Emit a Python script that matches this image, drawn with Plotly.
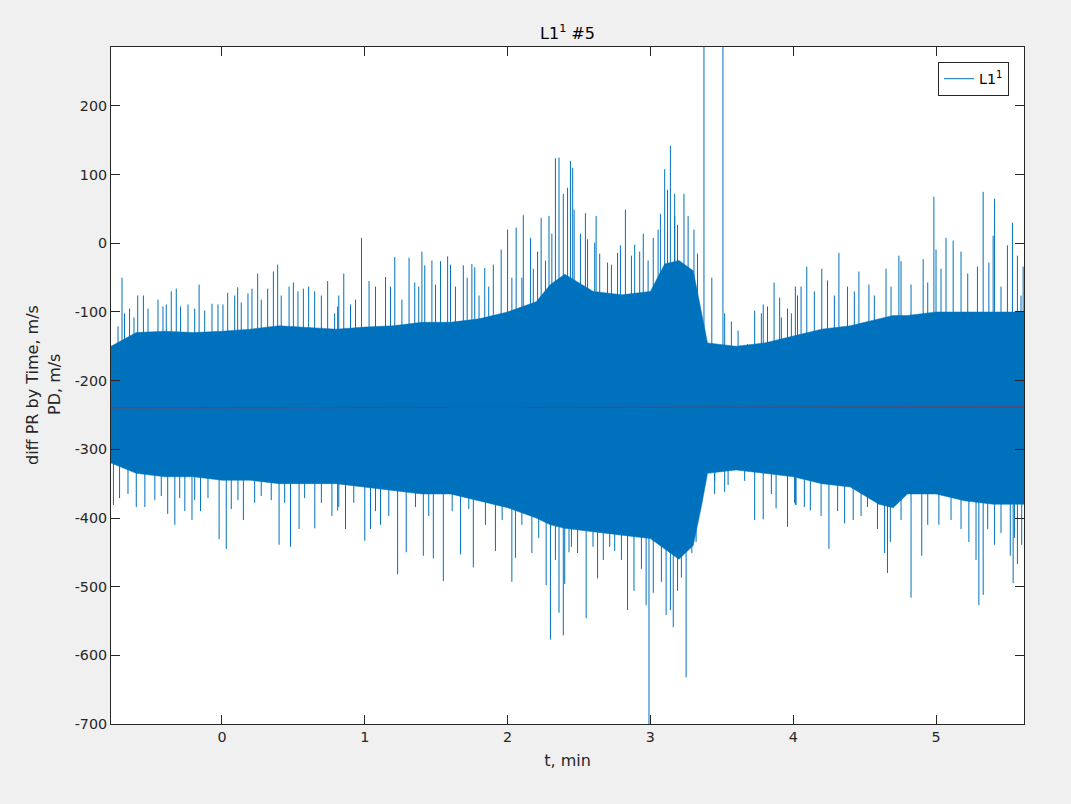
import plotly.graph_objects as go

# ---- data ----
# solid (dense) part of the signal: upper / lower edge
t_core = [-0.777, -0.6, -0.4, -0.2, 0.0, 0.2, 0.4, 0.6, 0.8, 1.0, 1.2, 1.4, 1.6, 1.8,
          2.0, 2.2, 2.3, 2.4, 2.6, 2.8, 3.0, 3.1, 3.2, 3.3, 3.36, 3.4, 3.6, 3.8, 4.0,
          4.2, 4.4, 4.6, 4.7, 4.8, 5.0, 5.2, 5.4, 5.616]
core_hi = [-150, -130, -128, -130, -128, -125, -120, -122, -125, -122, -120, -115, -115, -110,
           -100, -85, -60, -45, -70, -75, -70, -30, -25, -40, -100, -145, -150, -145, -135,
           -125, -120, -110, -105, -105, -100, -100, -100, -100]
core_lo = [-320, -335, -340, -340, -345, -345, -350, -350, -350, -355, -360, -365, -365, -375,
           -385, -400, -410, -415, -420, -425, -430, -445, -460, -440, -380, -335, -330, -335, -340,
           -350, -355, -380, -385, -365, -365, -375, -380, -380]

# upward spike tips (t, value)
up_t = [-0.70, -0.59, -0.55, -0.355, -0.32, -0.16, 0.04, 0.11, 0.21, 0.25, 0.32, 0.36, 0.39,
        0.47, 0.50, 0.57, 0.74, 0.81,
        -0.728, -0.682, -0.647, -0.616, -0.518, -0.448, -0.413, -0.39, -0.29, -0.238, -0.191,
        -0.121, -0.07, -0.028, 0.007, 0.089, 0.135, 0.182, 0.275, 0.415, 0.532, 0.607, 0.649,
        0.696, 0.789,
        0.853, 0.977, 1.03, 1.145, 1.21, 1.31, 1.35, 1.40, 1.42, 1.47, 1.53, 1.58, 1.60, 1.69,
        1.75, 1.77, 1.84, 1.90, 1.955, 2.00, 2.06, 2.11, 2.16, 2.21, 2.235, 2.29, 2.335, 2.36,
        2.39, 2.42,
        0.818, 0.90, 0.935, 1.075, 1.18, 1.26, 1.378, 1.495, 1.635, 1.717, 1.80, 1.868, 2.03,
        2.10, 2.18, 2.265, 2.31,
        2.44, 2.456, 2.466, 2.51, 2.545, 2.56, 2.62, 2.645, 2.70, 2.77, 2.79, 2.825, 2.89, 2.95,
        3.02, 3.07, 3.10, 3.12, 3.14, 3.17, 3.19, 3.235, 3.305, 3.33, 3.375, 3.43, 3.508, 3.52,
        3.68, 3.73, 3.79, 3.82, 3.866, 3.905, 3.96, 4.015, 4.03,
        2.61, 2.727, 2.867, 2.925, 2.984, 3.054, 3.17, 3.264, 3.567, 3.614, 3.777, 3.917, 3.987,
        4.095, 4.20, 4.24, 4.32, 4.38, 4.46, 4.53, 4.65, 4.74, 4.755, 4.91, 4.985, 5.0, 5.07,
        5.12, 5.175, 5.29, 5.33, 5.37, 5.40, 5.41, 5.50, 5.535, 5.57, 5.61,
        4.055, 4.148, 4.288, 4.428, 4.568, 4.685, 4.825, 4.942, 5.035, 5.222, 5.455, 5.595]
up_v = [-50, -76, -76, -70, -66, -60, -72, -64, -66, -44, -66, -41, -31,
        -63, -57, -66, -55, -92,
        -121, -102, -95, -108, -95, -82, -92, -89, -92, -89, -95,
        -98, -88, -89, -89, -76, -86, -73, -82, -76, -70, -63, -70,
        -76, -102,
        -44, 8, -55, -49, -20, -21, -57, -12, -32, -25, -26, -19, -31, -32,
        -30, -35, -36, -31, -9, 20, 23, 41, 8, -12, 37, 40, 124, 125,
        72, 81,
        -76, -89, -82, -63, -63, -82, -63, -60, -63, -50, -76, -63, -50,
        -50, -37, -25, 14,
        120, 110, 49, 14, 44, 6, 40, -15, -28, -14, -3, 49, -2, 14,
        8, 43, 108, 78, 142, 72, 27, 72, 20, -15, 400, -50, 400, -102,
        -147, -98, -89, -92, -57, -79, -95, -63, -76,
        1, -31, -18, -12, -25, 20, 40, 40, -114, -127, -102, -108, -102,
        -34, -37, -54, -14, -63, -41, -60, -37, -18, -26, -23, 68, -9, 8,
        4, -12, -34, 75, -28, 11, 65, -3, 30, -18, -34,
        -63, -70, -76, -70, -76, -63, -60, -57, -37, -44, -63, -76]

# downward spike tips (t, value)
dn_t = [-0.76, -0.60, -0.54, -0.38, -0.33, -0.26, -0.21, -0.15, -0.02, 0.03, 0.065, 0.15,
        0.40, 0.48, 0.54, 0.65, 0.77, 0.81,
        -0.717, -0.658, -0.47, -0.425, -0.296, -0.191, -0.098, 0.112, 0.229, 0.275, 0.345,
        0.439, 0.579, 0.696,
        0.865, 1.0, 1.04, 1.11, 1.23, 1.29, 1.41, 1.48, 1.55, 1.67, 1.76, 1.915, 2.03, 2.055,
        2.17, 2.27, 2.30, 2.36, 2.39, 2.43,
        0.818, 0.923, 1.075, 1.168, 1.355, 1.448, 1.612, 1.728, 1.845, 1.962, 2.10, 2.218, 2.335,
        2.40, 2.49, 2.55, 2.63, 2.67, 2.715, 2.84, 2.885, 2.97, 2.99, 3.02, 3.11, 3.14, 3.16,
        3.19, 3.25, 3.29, 3.32, 3.36, 3.45, 3.52, 3.595, 3.73, 3.79, 3.88, 3.96, 4.015,
        2.447, 2.598, 2.75, 2.797, 2.937, 3.077, 3.217, 3.45, 3.544, 3.66, 3.847, 4.01,
        4.02, 4.12, 4.25, 4.36, 4.42, 4.52, 4.64, 4.66, 4.68, 4.825, 4.90, 5.02, 5.23, 5.28,
        5.30, 5.33, 5.41, 5.52, 5.54, 5.57, 5.60,
        4.078, 4.195, 4.311, 4.475, 4.59, 4.755, 4.942, 5.105, 5.175, 5.362, 5.455, 5.549]
dn_v = [-381, -384, -384, -394, -410, -390, -403, -390, -431, -445, -387, -403,
        -439, -442, -416, -415, -397, -389,
        -371, -365, -374, -368, -371, -374, -371, -374, -378, -368, -374,
        -378, -371, -378,
        -416, -433, -416, -410, -482, -450, -455, -459, -492, -453, -472, -448, -493, -458,
        -451, -498, -577, -538, -571, -450,
        -384, -378, -390, -397, -384, -397, -390, -387, -410, -403, -410, -429, -461,
        -496, -451, -546, -488, -461, -442, -534, -506, -527, -720, -509, -541, -534, -559,
        -506, -632, -451, -435, -371, -365, -362, -323, -403, -402, -386, -413, -381,
        -442, -442, -448, -461, -474, -493, -487, -346, -352, -346, -365, -378,
        -381, -389, -445, -408, -403, -384, -451, -480, -435, -516, -455, -410, -435, -461,
        -527, -512, -439, -455, -495, -467, -439,
        -384, -397, -390, -397, -416, -403, -410, -403, -416, -416, -422, -429]

# mean level (red line)
mean_t = [-0.777, 5.616]
mean_v = [-239.5, -238.5]

x_ticks = [0, 1, 2, 3, 4, 5]
y_ticks = [-700, -600, -500, -400, -300, -200, -100, 0, 100, 200]
y_tick_text = ["-700", "-600", "-500", "-400", "-300", "-200", "-100", "0", "100", "200"]

BLUE = "#0072BD"
AXC = "#262626"
FONT = "DejaVu Sans"

# spike segments, each rising from the mean level to its tip
sx, sy = [], []
for t, v in zip(up_t + dn_t, up_v + dn_v):
    sx += [t, t, None]
    sy += [mean_v[0], v, None]

fig = go.Figure()
fig.add_trace(go.Scatter(
    x=t_core + t_core[::-1], y=core_hi + core_lo[::-1],
    fill="toself", fillcolor=BLUE, mode="lines",
    line=dict(color=BLUE, width=0.5), showlegend=False, hoverinfo="skip"))
fig.add_trace(go.Scatter(
    x=sx, y=sy, mode="lines", name="L1<sup>1</sup>",
    line=dict(color=BLUE, width=1)))
fig.add_trace(go.Scatter(
    x=mean_t, y=mean_v, mode="lines", showlegend=False,
    line=dict(color="#C8201E", width=1)))

axis_common = dict(
    showgrid=False, zeroline=False, showline=True, linecolor=AXC, linewidth=1,
    mirror="ticks", ticks="inside", ticklen=9, tickcolor=AXC, tickwidth=1,
    tickfont=dict(family=FONT, size=14.3, color=AXC),
)
fig.update_xaxes(range=[-0.777, 5.616], tickvals=x_ticks,
                 title=dict(text="t, min", font=dict(family=FONT, size=16, color=AXC),
                            standoff=10),
                 **axis_common)
fig.update_yaxes(range=[-700, 285.9], tickvals=y_ticks, ticktext=y_tick_text,
                 **axis_common)

# two-line y-axis label
fig.add_annotation(text="diff PR by Time, m/s", textangle=-90, showarrow=False,
                   xref="paper", yref="paper", x=(33 - 111) / 913, y=(724 - 385) / 677,
                   xanchor="center", yanchor="middle",
                   font=dict(family=FONT, size=16, color=AXC))
fig.add_annotation(text="PD, m/s", textangle=-90, showarrow=False,
                   xref="paper", yref="paper", x=(55 - 111) / 913, y=(724 - 385) / 677,
                   xanchor="center", yanchor="middle",
                   font=dict(family=FONT, size=16, color=AXC))

fig.update_layout(
    width=1071, height=804,
    margin=dict(l=111, r=47, t=47, b=80, autoexpand=False),
    paper_bgcolor="#F0F0F0", plot_bgcolor="white",
    font=dict(family=FONT, color=AXC),
    title=dict(text="L1<sup>1</sup> #5", x=(111 + 1024) / 2 / 1071, xanchor="center",
               y=1 - 33 / 804, yanchor="middle",
               font=dict(family=FONT, size=16, color="black")),
    legend=dict(x=0.9836, xanchor="right", y=0.978, yanchor="top",
                bgcolor="white", bordercolor=AXC, borderwidth=1,
                font=dict(family=FONT, size=14.3, color="black"),
                itemwidth=30, tracegroupgap=0),
    showlegend=True,
)

fig.write_html("out.html", config={"displayModeBar": False},
               post_script="document.body.style.margin='0px';")
